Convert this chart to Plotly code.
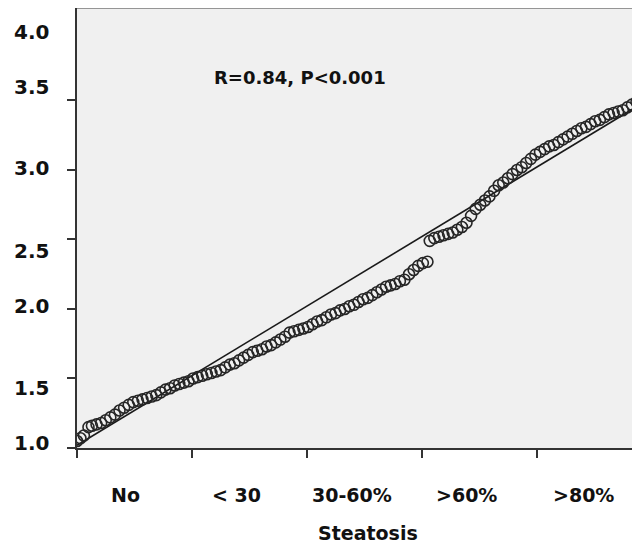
import plotly.graph_objects as go

# ---- data ----
categories = ["No", "< 30", "30-60%", ">60%", ">80%"]
category_pos = [0.42, 1.39, 2.39, 3.39, 4.41]
boundary_ticks = [0, 1, 2, 3, 4]

y_tick_vals = [1.0, 1.5, 2.0, 2.5, 3.0, 3.5]
y_label_vals = [4.0, 3.5, 3.0, 2.5, 2.0, 1.5, 1.0]
y_label_text = ["4.0", "3.5", "3.0", "2.5", "2.0", "1.5", "1.0"]

seg1_x = [0.00, 0.03, 0.06, 0.10, 0.13, 0.17, 0.21, 0.25, 0.29, 0.33, 0.37, 0.41, 0.45, 0.49,
          0.53, 0.57, 0.61, 0.65, 0.69, 0.73, 0.77, 0.81, 0.85, 0.89, 0.93, 0.97, 1.01, 1.05,
          1.09, 1.13, 1.17, 1.21, 1.25, 1.29, 1.33, 1.37, 1.41, 1.45, 1.49, 1.53, 1.57, 1.61,
          1.65, 1.69, 1.73, 1.77, 1.81, 1.85, 1.89, 1.93, 1.97, 2.01, 2.05, 2.09, 2.13, 2.17,
          2.21, 2.25, 2.29, 2.33, 2.37, 2.41, 2.45, 2.49, 2.53, 2.57, 2.61, 2.65, 2.69, 2.73,
          2.77, 2.81, 2.85, 2.89, 2.93, 2.97, 3.01, 3.05]
seg1_y = [1.05, 1.07, 1.09, 1.15, 1.16, 1.17, 1.18, 1.20, 1.22, 1.24, 1.27, 1.29, 1.31, 1.33,
          1.34, 1.35, 1.36, 1.37, 1.38, 1.40, 1.42, 1.43, 1.45, 1.46, 1.47, 1.48, 1.50, 1.51,
          1.52, 1.53, 1.54, 1.55, 1.56, 1.58, 1.60, 1.61, 1.63, 1.65, 1.67, 1.69, 1.70, 1.71,
          1.73, 1.74, 1.76, 1.78, 1.80, 1.83, 1.84, 1.85, 1.86, 1.87, 1.89, 1.91, 1.92, 1.94,
          1.96, 1.97, 1.99, 2.00, 2.02, 2.03, 2.05, 2.07, 2.08, 2.10, 2.12, 2.14, 2.16, 2.17,
          2.18, 2.20, 2.21, 2.25, 2.28, 2.31, 2.33, 2.34]

seg2_x = [3.07, 3.11, 3.15, 3.19, 3.23, 3.27, 3.31, 3.35, 3.39, 3.43, 3.47, 3.51, 3.55, 3.59,
          3.63, 3.67, 3.71, 3.75, 3.79, 3.83, 3.87, 3.91, 3.95, 3.99, 4.03, 4.07, 4.11, 4.15,
          4.19, 4.23, 4.27, 4.31, 4.35, 4.39, 4.43, 4.47, 4.51, 4.55, 4.59, 4.63, 4.67, 4.71,
          4.75, 4.79, 4.83, 4.87, 4.91]
seg2_y = [2.49, 2.51, 2.52, 2.53, 2.54, 2.55, 2.57, 2.59, 2.62, 2.67, 2.72, 2.75, 2.78, 2.81,
          2.85, 2.89, 2.91, 2.94, 2.97, 3.00, 3.02, 3.05, 3.08, 3.11, 3.13, 3.15, 3.17, 3.18,
          3.20, 3.22, 3.24, 3.26, 3.28, 3.30, 3.31, 3.33, 3.35, 3.36, 3.38, 3.40, 3.41, 3.42,
          3.43, 3.45, 3.47, 3.49, 3.51]

fit_x = [0.0, 4.9]
fit_y = [1.02, 3.47]

stat_text = "R=0.84, P<0.001"
x_title = "Steatosis"

FONT = "DejaVu Sans"
PLOT_W = 563  # px width of plotting area
# vertical pixel offsets of the y labels as placed in the original figure
Y_LABEL_SHIFT = [-1, 13, 2, -12, 3, -10, 5]

fig = go.Figure()
fig.add_trace(go.Scatter(x=fit_x, y=fit_y, mode="lines",
                         line=dict(color="#1a1a1a", width=1.6), hoverinfo="skip"))
fig.add_trace(go.Scatter(x=seg1_x + seg2_x, y=seg1_y + seg2_y, mode="markers",
                         marker=dict(symbol="circle-open", size=11, color="#262626",
                                     line=dict(width=1.6, color="#262626"))))

annotations = []
for v, t, s in zip(y_label_vals, y_label_text, Y_LABEL_SHIFT):
    annotations.append(dict(xref="paper", yref="y", x=0, y=v, text=f"<b>{t}</b>",
                            showarrow=False, xanchor="right", yanchor="middle",
                            xshift=-26, yshift=s,
                            font=dict(family=FONT, size=20, color="#111")))
for p, c in zip(category_pos, categories):
    annotations.append(dict(xref="x", yref="paper", x=p, y=0, text=f"<b>{c}</b>",
                            showarrow=False, xanchor="center", yanchor="middle", yshift=-47,
                            font=dict(family=FONT, size=19, color="#111")))
annotations.append(dict(xref="paper", yref="paper", x=(368 - 77) / PLOT_W, y=0, text=f"<b>{x_title}</b>",
                        showarrow=False, xanchor="center", yanchor="middle", yshift=-85,
                        font=dict(family=FONT, size=19, color="#111")))
annotations.append(dict(xref="paper", yref="paper", x=(300 - 77) / PLOT_W, y=1, text=f"<b>{stat_text}</b>",
                        showarrow=False, xanchor="center", yanchor="middle", yshift=-69,
                        font=dict(family=FONT, size=18, color="#111")))

fig.update_layout(
    width=632, height=535,
    margin=dict(l=69, r=0, t=0, b=95),
    paper_bgcolor="white", plot_bgcolor="#f0f0f0",
    showlegend=False,
    annotations=annotations,
    shapes=[dict(type="line", xref="paper", yref="paper", x0=0, x1=1, y0=1, y1=1,
                 line=dict(color="#777", width=1.5))],
)
fig.update_xaxes(range=[0, 4.9], showgrid=False, zeroline=False,
                 showline=True, linecolor="#333", linewidth=2,
                 tickmode="array", tickvals=boundary_ticks, showticklabels=False,
                 ticks="outside", ticklen=8, tickwidth=2, tickcolor="#333")
fig.update_yaxes(range=[1.0, 4.165], showgrid=False, zeroline=False,
                 showline=True, linecolor="#333", linewidth=2,
                 tickmode="array", tickvals=y_tick_vals, showticklabels=False,
                 ticks="outside", ticklen=8, tickwidth=2, tickcolor="#333")

fig.write_html("out.html")
